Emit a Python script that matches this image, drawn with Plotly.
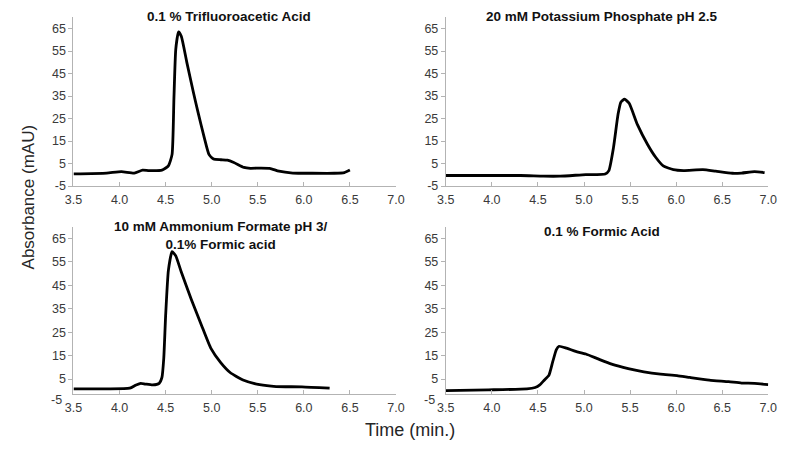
import plotly.graph_objects as go

# ---- data ----
tfa_time = [3.5, 3.86, 4.02, 4.16, 4.25, 4.32, 4.46, 4.53, 4.57, 4.59, 4.61, 4.64, 4.67, 4.73, 4.80,
            4.85, 4.92, 4.97, 5.02, 5.10, 5.17, 5.24, 5.35, 5.42, 5.52, 5.63, 5.73, 5.88, 6.09, 6.33, 6.44, 6.5]
tfa_abs = [0.4, 0.8, 1.4, 0.8, 2.1, 1.9, 2.1, 4.0, 9.1, 33.9, 55.8, 63.5, 61.6, 50.0, 36.9,
           28.1, 16.4, 9.1, 7.0, 6.7, 6.5, 5.5, 3.3, 2.9, 3.0, 2.9, 1.6, 0.8, 0.7, 0.7, 1.0, 2.1]

kp_time = [3.5, 4.31, 4.56, 4.74, 5.02, 5.23, 5.27, 5.32, 5.37, 5.40, 5.44, 5.49, 5.58, 5.69, 5.78, 5.86,
           5.97, 6.08, 6.29, 6.43, 6.61, 6.71, 6.85, 6.96]
kp_abs = [-0.3, -0.3, -0.6, -0.6, 0.1, 0.4, 1.9, 12.1, 27.0, 32.3, 33.6, 31.8, 22.3, 13.5, 7.7, 4.0,
          2.3, 1.9, 2.3, 1.6, 0.7, 0.8, 1.4, 1.0]

af_time = [3.5, 3.86, 4.11, 4.18, 4.23, 4.28, 4.36, 4.43, 4.46, 4.48, 4.50, 4.53, 4.57, 4.61, 4.67,
           4.78, 4.89, 4.99, 5.10, 5.20, 5.34, 5.52, 5.70, 5.98, 6.28]
af_abs = [0.85, 0.85, 1.1, 2.5, 3.2, 2.9, 2.5, 3.2, 5.7, 14.0, 32.0, 51.4, 59.4, 57.6, 50.7,
          38.9, 27.9, 18.2, 11.9, 7.8, 4.6, 2.6, 1.8, 1.7, 1.1]

fa_time = [3.5, 3.96, 4.38, 4.47, 4.52, 4.57, 4.62, 4.66, 4.70, 4.73, 4.81, 4.91, 5.02, 5.16, 5.30,
           5.48, 5.65, 5.83, 6.01, 6.15, 6.36, 6.57, 6.71, 6.85, 7.0]
fa_abs = [0.1, 0.4, 0.8, 1.4, 2.5, 4.6, 6.7, 12.3, 17.6, 19.0, 18.2, 16.8, 15.7, 13.5, 11.4,
          9.5, 8.1, 7.1, 6.5, 5.7, 4.6, 3.9, 3.3, 3.2, 2.6]

panel_titles = ["0.1 % Trifluoroacetic Acid", "20 mM Potassium Phosphate pH 2.5",
                "10 mM Ammonium Formate pH 3/<br>0.1% Formic acid", "0.1 % Formic Acid"]
x_ticks = [3.5, 4.0, 4.5, 5.0, 5.5, 6.0, 6.5, 7.0]
y_ticks = [-5, 5, 15, 25, 35, 45, 55, 65]

series = [(tfa_time, tfa_abs), (kp_time, kp_abs), (af_time, af_abs), (fa_time, fa_abs)]

FONT = "Liberation Sans, Arial, sans-serif"
AXIS_COLOR = "#b3b3b3"
TICK_FONT = dict(family=FONT, size=12.5, color="#3a3a3a")

fig = go.Figure()
for i, (t, a) in enumerate(series):
    n = "" if i == 0 else str(i + 1)
    fig.add_trace(go.Scatter(x=t, y=a, mode="lines", xaxis="x" + n, yaxis="y" + n,
                             line=dict(color="black", width=2.8, shape="spline", smoothing=0.5),
                             showlegend=False, hoverinfo="skip"))

x_domains = [[0.08365, 0.50190], [0.56654, 0.98479], [0.08365, 0.50190], [0.56654, 0.98479]]
y_domains = [[0.5837, 0.9612], [0.5837, 0.9612], [0.1189, 0.4927], [0.1189, 0.4927]]
y_ranges = [[-5, 70], [-5, 70], [-1.3, 70], [-1.3, 70]]

layout = dict(
    width=789, height=454,
    margin=dict(l=0, r=0, t=0, b=0),
    paper_bgcolor="white", plot_bgcolor="white",
    font=dict(family=FONT, color="#222222"),
)
for i in range(4):
    n = "" if i == 0 else str(i + 1)
    layout["xaxis" + n] = dict(
        domain=x_domains[i], anchor="y" + n, range=[3.5, 7.0],
        tickvals=x_ticks, ticktext=[f"{v:.1f}" for v in x_ticks],
        showgrid=False, zeroline=False, showline=True, linecolor=AXIS_COLOR, linewidth=1,
        ticks="inside", ticklen=4, tickcolor=AXIS_COLOR, tickfont=TICK_FONT,
        ticklabelstandoff=2, fixedrange=True,
    )
    layout["yaxis" + n] = dict(
        domain=y_domains[i], anchor="x" + n, range=y_ranges[i],
        tickvals=y_ticks, ticktext=[str(v) for v in y_ticks],
        showgrid=False, zeroline=False, showline=True, linecolor=AXIS_COLOR, linewidth=1,
        ticks="outside", ticklen=4, tickcolor=AXIS_COLOR, tickfont=TICK_FONT, fixedrange=True,
    )
fig.update_layout(**layout)

title_pos = [(225, 17), (607, 17), (217, 239), (607, 235)]
for (px, py), txt in zip(title_pos, panel_titles):
    fig.add_annotation(text="<b>" + txt + "</b>", x=px / 789, y=1 - py / 454, xref="paper", yref="paper",
                       showarrow=False, xanchor="center", yanchor="middle",
                       font=dict(family=FONT, size=13.5, color="#111111"))

# "-5" labels of the lower panels sit just below their raised horizontal axis
for n in ["3", "4"]:
    fig.add_annotation(text="-5", x=0, xref="x" + n + " domain", y=0, yref="y" + n + " domain",
                       xanchor="right", yanchor="middle", xshift=-9, yshift=-6, showarrow=False,
                       font=TICK_FONT)

fig.add_annotation(text="Absorbance (mAU)", x=20 / 789, y=1 - 200 / 454, xref="paper", yref="paper",
                   showarrow=False, textangle=-90, xanchor="center", yanchor="middle",
                   font=dict(family=FONT, size=17, color="#262626"))
fig.add_annotation(text="Time (min.)", x=410 / 789, y=1 - 437 / 454, xref="paper", yref="paper",
                   showarrow=False, xanchor="center", yanchor="middle",
                   font=dict(family=FONT, size=18, color="#262626"))

fig.write_html("out.html", config={"displayModeBar": False},
               post_script="document.body.style.margin='0';")
